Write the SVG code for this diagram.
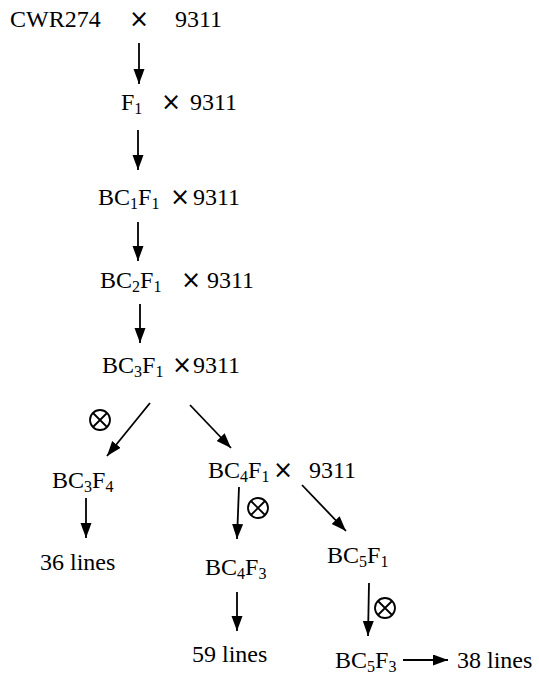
<svg xmlns="http://www.w3.org/2000/svg" width="539" height="677" viewBox="0 0 539 677">
  <style>
    .t { font-size: 24px; fill: #000; }
    .sub { font-size: 16px; }
    .x { font-size: 24px; }
    .edge { stroke: #000; stroke-width: 1.8; fill: none; marker-end: url(#head); }
    .self circle { fill: none; stroke: #000; stroke-width: 1.8; }
    .self path { stroke: #000; stroke-width: 1.8; fill: none; }
  </style>
  <defs>
    <marker id="head" markerUnits="userSpaceOnUse" markerWidth="16" markerHeight="12" refX="15" refY="5.5" orient="auto">
      <path d="M0,0 L15,5.5 L0,11 z" fill="#000"/>
    </marker>
    <g id="selfing" class="self">
      <circle r="10"/>
      <path d="M-7,-7 L7,7 M7,-7 L-7,7"/>
    </g>
  </defs>

  <rect width="539" height="677" fill="#fff"/>

  <g font-family="Liberation Serif, Times New Roman, Times, DejaVu Serif, serif">
  <g id="cross0"><text class="t" x="10" y="27">CWR274</text><text class="x" font-family="DejaVu Sans, sans-serif" x="129" y="27">×</text><text class="t" x="175" y="27">9311</text></g>
  <g id="f1"><text class="t" x="121" y="110">F<tspan class="sub" dy="4">1</tspan></text><text class="x" font-family="DejaVu Sans, sans-serif" x="161" y="110">×</text><text class="t" x="190" y="110">9311</text></g>
  <g id="bc1f1"><text class="t" x="98" y="205">BC<tspan class="sub" dy="4">1</tspan><tspan dy="-4">F</tspan><tspan class="sub" dy="4">1</tspan></text><text class="x" font-family="DejaVu Sans, sans-serif" x="170" y="205">×</text><text class="t" x="193" y="205">9311</text></g>
  <g id="bc2f1"><text class="t" x="100" y="288">BC<tspan class="sub" dy="4">2</tspan><tspan dy="-4">F</tspan><tspan class="sub" dy="4">1</tspan></text><text class="x" font-family="DejaVu Sans, sans-serif" x="181" y="288">×</text><text class="t" x="207" y="288">9311</text></g>
  <g id="bc3f1"><text class="t" x="102" y="373">BC<tspan class="sub" dy="4">3</tspan><tspan dy="-4">F</tspan><tspan class="sub" dy="4">1</tspan></text><text class="x" font-family="DejaVu Sans, sans-serif" x="172" y="373">×</text><text class="t" x="193" y="373">9311</text></g>
  <g id="bc3f4"><text class="t" x="52" y="488">BC<tspan class="sub" dy="4">3</tspan><tspan dy="-4">F</tspan><tspan class="sub" dy="4">4</tspan></text></g>
  <g id="bc4f1"><text class="t" x="208" y="478">BC<tspan class="sub" dy="4">4</tspan><tspan dy="-4">F</tspan><tspan class="sub" dy="4">1</tspan></text><text class="x" font-family="DejaVu Sans, sans-serif" x="273" y="478">×</text><text class="t" x="309" y="478">9311</text></g>
  <g id="lines36"><text class="t" x="40" y="570">36 lines</text></g>
  <g id="bc4f3"><text class="t" x="205" y="575">BC<tspan class="sub" dy="4">4</tspan><tspan dy="-4">F</tspan><tspan class="sub" dy="4">3</tspan></text></g>
  <g id="bc5f1"><text class="t" x="327" y="563">BC<tspan class="sub" dy="4">5</tspan><tspan dy="-4">F</tspan><tspan class="sub" dy="4">1</tspan></text></g>
  <g id="lines59"><text class="t" x="192" y="662">59 lines</text></g>
  <g id="bc5f3"><text class="t" x="335" y="668">BC<tspan class="sub" dy="4">5</tspan><tspan dy="-4">F</tspan><tspan class="sub" dy="4">3</tspan></text></g>
  <g id="lines38"><text class="t" x="457" y="668">38 lines</text></g>
  </g>

  <g id="connectors">
    <line class="edge" x1="139" y1="43" x2="139" y2="84"/>
    <line class="edge" x1="138" y1="130" x2="138" y2="170"/>
    <line class="edge" x1="138" y1="222" x2="138" y2="261"/>
    <line class="edge" x1="140" y1="304" x2="140" y2="343"/>
    <line class="edge" x1="150" y1="403" x2="107" y2="456"/>
    <line class="edge" x1="190" y1="405" x2="231" y2="448"/>
    <line class="edge" x1="86" y1="498" x2="86" y2="538"/>
    <line class="edge" x1="239" y1="487" x2="237" y2="539"/>
    <line class="edge" x1="302" y1="485" x2="346" y2="531"/>
    <line class="edge" x1="237" y1="592" x2="237" y2="631"/>
    <line class="edge" x1="369" y1="583" x2="368" y2="636"/>
    <line class="edge" x1="403" y1="660" x2="448" y2="660"/>
    <use href="#selfing" x="100" y="420"/>
    <use href="#selfing" x="258" y="508"/>
    <use href="#selfing" x="385" y="608"/>
  </g>
</svg>
